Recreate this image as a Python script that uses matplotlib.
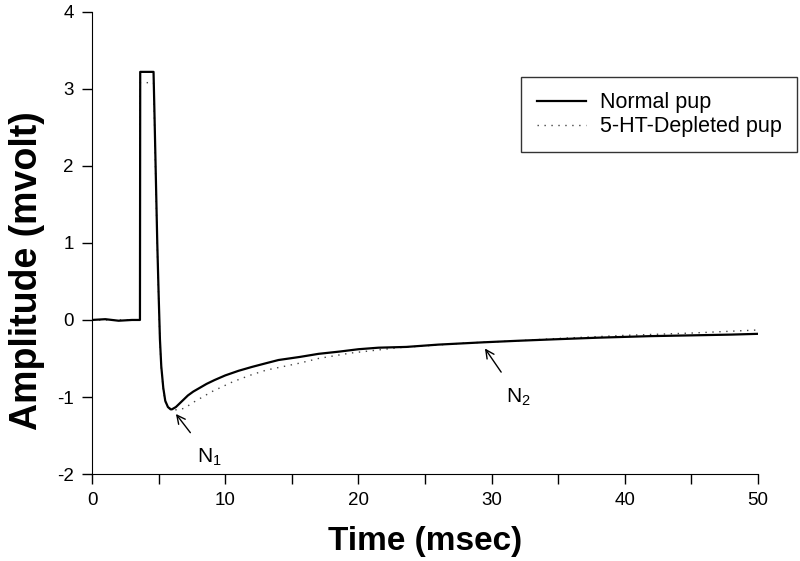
import matplotlib.pyplot as plt
import numpy as np

plt.rcParams['font.family'] = ['Liberation Sans', 'DejaVu Sans']
plt.rcParams['axes.unicode_minus'] = False

# evoked field potential
t_normal = [0, 1, 2, 3, 3.6, 3.62, 4.62, 4.7, 4.8, 4.9, 5.0, 5.1, 5.2, 5.35, 5.5, 5.7,
            5.9, 6.0, 6.3, 6.6, 6.9, 7.2, 7.6, 8.1, 8.6, 9.2, 10.0, 11.0, 12.0, 13.1,
            14.0, 15.6, 17.0, 18.6, 20.0, 21.5, 23.6, 26.0, 29.4, 32.0, 34.9, 38.0,
            41.9, 45.0, 48.0, 50.0]
amp_normal = [0.0, 0.01, -0.01, 0.0, 0.0, 3.22, 3.22, 2.6, 1.8, 1.0, 0.35, -0.25, -0.6,
              -0.88, -1.05, -1.13, -1.16, -1.16, -1.13, -1.08, -1.03, -0.98, -0.93,
              -0.88, -0.83, -0.78, -0.72, -0.66, -0.61, -0.56, -0.52, -0.48, -0.44,
              -0.41, -0.38, -0.36, -0.35, -0.32, -0.29, -0.27, -0.25, -0.23, -0.21,
              -0.20, -0.19, -0.18]

t_depleted = [0, 1, 2, 3, 3.6, 3.62, 4.62, 4.7, 4.8, 4.9, 5.0, 5.1, 5.2, 5.35, 5.5, 5.7,
              6.0, 6.5, 7.0, 7.5, 8.1, 9.0, 10.6, 12.0, 13.1, 15.6, 17.0, 19.4, 23.0,
              28.0, 32.0, 35.0, 40.0, 45.0, 50.0]
amp_depleted = [0.0, 0.0, 0.0, 0.0, 0.0, 3.08, 3.08, 2.5, 1.7, 0.95, 0.3, -0.3, -0.62,
                -0.9, -1.06, -1.13, -1.16, -1.17, -1.14, -1.08, -1.02, -0.93, -0.80,
                -0.71, -0.65, -0.56, -0.50, -0.43, -0.36, -0.30, -0.27, -0.24, -0.20,
                -0.17, -0.13]

fig = plt.figure(figsize=(8, 5.61), dpi=100)
ax = fig.add_axes([0.115, 0.155, 0.8325, 0.824])

ax.plot(t_normal, amp_normal, color='black', lw=1.6, label='Normal pup', zorder=3)
ax.plot(t_depleted, amp_depleted, color='#444444', lw=1.0, ls=(0, (1, 4)),
        label='5-HT-Depleted pup', zorder=2)

ax.set_xlim(0, 50)
ax.set_ylim(-2, 4)
ax.set_xticks(np.arange(0, 51, 10))
ax.set_xticks(np.arange(5, 50, 10), minor=True)
ax.set_yticks(np.arange(-2, 5, 1))
ax.spines['top'].set_visible(False)
ax.spines['right'].set_visible(False)
ax.tick_params(which='both', direction='out', length=7, width=1, labelsize=13.5, pad=6)
ax.set_xlabel('Time (msec)', fontsize=24, fontweight='bold', labelpad=12)
ax.set_ylabel('Amplitude (mvolt)', fontsize=27, fontweight='bold', va='center')
ax.yaxis.set_label_coords(-0.097, 0.44)

leg = ax.legend(loc='upper right', bbox_to_anchor=(797 / 800, 1 - 77 / 561),
                bbox_transform=fig.transFigure, borderaxespad=0, fontsize=15.5,
                frameon=True, fancybox=False, edgecolor='black', handlelength=2.3,
                handletextpad=0.65, borderpad=0.7, labelspacing=0.15)
leg.get_frame().set_linewidth(1.0)

ax.annotate(r'$\mathregular{N_1}$', xy=(6.3, -1.22), xytext=(8.8, -1.78),
            fontsize=15, ha='center', va='center',
            arrowprops=dict(arrowstyle='->', color='black', lw=1.0,
                            shrinkA=10, shrinkB=0))
ax.annotate(r'$\mathregular{N_2}$', xy=(29.5, -0.37), xytext=(32.0, -1.0),
            fontsize=15, ha='center', va='center',
            arrowprops=dict(arrowstyle='->', color='black', lw=1.0,
                            shrinkA=10, shrinkB=0))

fig.savefig('out.png', dpi=100)
